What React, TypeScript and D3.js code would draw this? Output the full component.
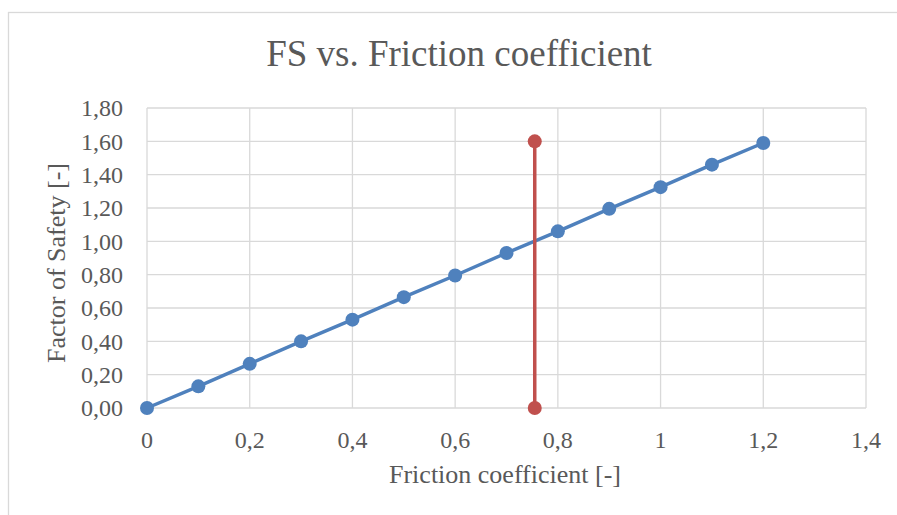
import React from 'react';
import * as d3 from 'd3';

// FS curve data
const frictionX = [0, 0.1, 0.2, 0.3, 0.4, 0.5, 0.6, 0.7, 0.8, 0.9, 1.0, 1.1, 1.2];
const fsY = [0, 0.13, 0.265, 0.4, 0.53, 0.665, 0.795, 0.93, 1.06, 1.195, 1.325, 1.46, 1.59];

// vertical marker line
const markerX = [0.755, 0.755];
const markerY = [0, 1.6];

const xTicks = [0, 0.2, 0.4, 0.6, 0.8, 1.0, 1.2, 1.4];
const yTicks = [0, 0.2, 0.4, 0.6, 0.8, 1.0, 1.2, 1.4, 1.6, 1.8];

const W = 897;
const H = 515;
const left = 147, right = 866, top = 108, bottom = 408;

const textColor = '#595959';
const gridColor = '#d9d9d9';
const font = '"Liberation Serif", "Times New Roman", serif';

const fmtX = (v: number) => d3.format('~g')(v).replace('.', ',');
const fmtY = (v: number) => d3.format('.2f')(v).replace('.', ',');

export default function App() {
    const x = d3.scaleLinear().domain([0, 1.4]).range([left, right]);
    const y = d3.scaleLinear().domain([0, 1.8]).range([bottom, top]);

    const line = d3.line<[number, number]>()
        .x(d => x(d[0]))
        .y(d => y(d[1]));

    const fsPts = frictionX.map((v, i) => [v, fsY[i]] as [number, number]);
    const markPts = markerX.map((v, i) => [v, markerY[i]] as [number, number]);

    return (
        <svg width={W} height={H} style={{ position: 'absolute', left: 0, top: 0, background: '#fff' }}
            fontFamily={font}>
            {/* chart border */}
            <rect x={8.5} y={12.5} width={W + 20} height={H + 20} fill="none" stroke={gridColor} strokeWidth={1.3} />

            {/* title */}
            <text x={459} y={66} textAnchor="middle" fontSize={37} fill={textColor}>FS vs. Friction coefficient</text>

            {/* grid */}
            {yTicks.map(t => (
                <line key={'gy' + t} x1={left} x2={right} y1={y(t)} y2={y(t)} stroke={gridColor} strokeWidth={1.3} />
            ))}
            {xTicks.map(t => (
                <line key={'gx' + t} x1={x(t)} x2={x(t)} y1={top} y2={bottom} stroke={gridColor} strokeWidth={1.3} />
            ))}

            {/* tick labels */}
            {yTicks.map(t => (
                <text key={'ly' + t} x={123} y={y(t)} dy="0.35em" textAnchor="end" fontSize={24} fill={textColor}>{fmtY(t)}</text>
            ))}
            {xTicks.map(t => (
                <text key={'lx' + t} x={x(t)} y={448} textAnchor="middle" fontSize={24} fill={textColor}>{fmtX(t)}</text>
            ))}

            {/* axis titles */}
            <text x={505} y={483} textAnchor="middle" fontSize={26} fill={textColor}>Friction coefficient [-]</text>
            <text transform="translate(65,263) rotate(-90)" textAnchor="middle" fontSize={26} fill={textColor}>Factor of Safety [-]</text>

            {/* FS series */}
            <path d={line(fsPts) ?? ''} fill="none" stroke="#4f81bd" strokeWidth={3.5} strokeLinejoin="round" />
            {fsPts.map((p, i) => (
                <circle key={'p' + i} cx={x(p[0])} cy={y(p[1])} r={7} fill="#4f81bd" />
            ))}

            {/* marker series */}
            <path d={line(markPts) ?? ''} fill="none" stroke="#c0504d" strokeWidth={3.5} />
            {markPts.map((p, i) => (
                <circle key={'m' + i} cx={x(p[0])} cy={y(p[1])} r={7} fill="#c0504d" />
            ))}
        </svg>
    );
}
